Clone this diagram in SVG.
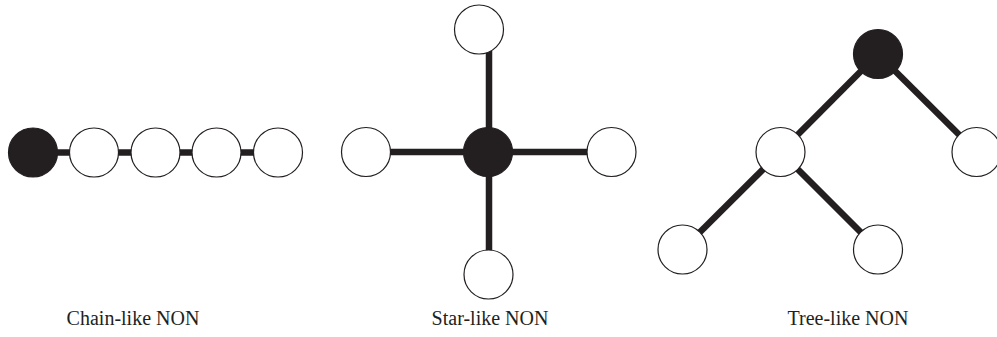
<svg xmlns="http://www.w3.org/2000/svg" width="997" height="337" viewBox="0 0 997 337">
<style>
.edge{stroke:#231f20;stroke-width:6.5;fill:none}
.node{fill:#fff;stroke:#231f20;stroke-width:1.2}
.root{fill:#231f20;stroke:#231f20;stroke-width:1.2}
.lbl{font-family:"Liberation Serif","Times New Roman",serif;font-size:20px;fill:#231f20;text-anchor:middle}
</style>
<rect width="997" height="337" fill="#fff"/>
<g id="connectors">
<line class="edge" x1="33" y1="152.5" x2="278" y2="152.5"/>
<line class="edge" x1="489" y1="30" x2="489" y2="274"/>
<line class="edge" x1="366" y1="152" x2="611" y2="152"/>
<line class="edge" x1="878" y1="54" x2="780.5" y2="152"/>
<line class="edge" x1="878" y1="54" x2="976.5" y2="152"/>
<line class="edge" x1="780.5" y1="152" x2="682.5" y2="249.5"/>
<line class="edge" x1="780.5" y1="152" x2="878" y2="249.5"/>
</g>
<g id="chain">
<g id="c1"><circle class="root" cx="33" cy="152.5" r="24.5"/></g>
<g id="c2"><circle class="node" cx="94" cy="152.5" r="24.5"/></g>
<g id="c3"><circle class="node" cx="155.5" cy="152.5" r="24.5"/></g>
<g id="c4"><circle class="node" cx="216.5" cy="152.5" r="24.5"/></g>
<g id="c5"><circle class="node" cx="278" cy="152.5" r="24.5"/></g>
</g>
<g id="star">
<g id="s0"><circle class="root" cx="488" cy="152" r="24.5"/></g>
<g id="s1"><circle class="node" cx="479" cy="29.5" r="24.5"/></g>
<g id="s2"><circle class="node" cx="366" cy="152" r="24.5"/></g>
<g id="s3"><circle class="node" cx="611.5" cy="152" r="24.5"/></g>
<g id="s4"><circle class="node" cx="488.5" cy="274.5" r="24.5"/></g>
</g>
<g id="tree">
<g id="t0"><circle class="root" cx="878" cy="54" r="24.5"/></g>
<g id="t1"><circle class="node" cx="780.5" cy="152" r="24.5"/></g>
<g id="t2"><circle class="node" cx="976.5" cy="152" r="24.5"/></g>
<g id="t3"><circle class="node" cx="682.5" cy="249.5" r="24.5"/></g>
<g id="t4"><circle class="node" cx="878" cy="249.5" r="24.5"/></g>
</g>
<g id="labels">
<text class="lbl" x="133" y="325">Chain-like NON</text>
<text class="lbl" x="490" y="325">Star-like NON</text>
<text class="lbl" x="848" y="325">Tree-like NON</text>
</g>
</svg>
